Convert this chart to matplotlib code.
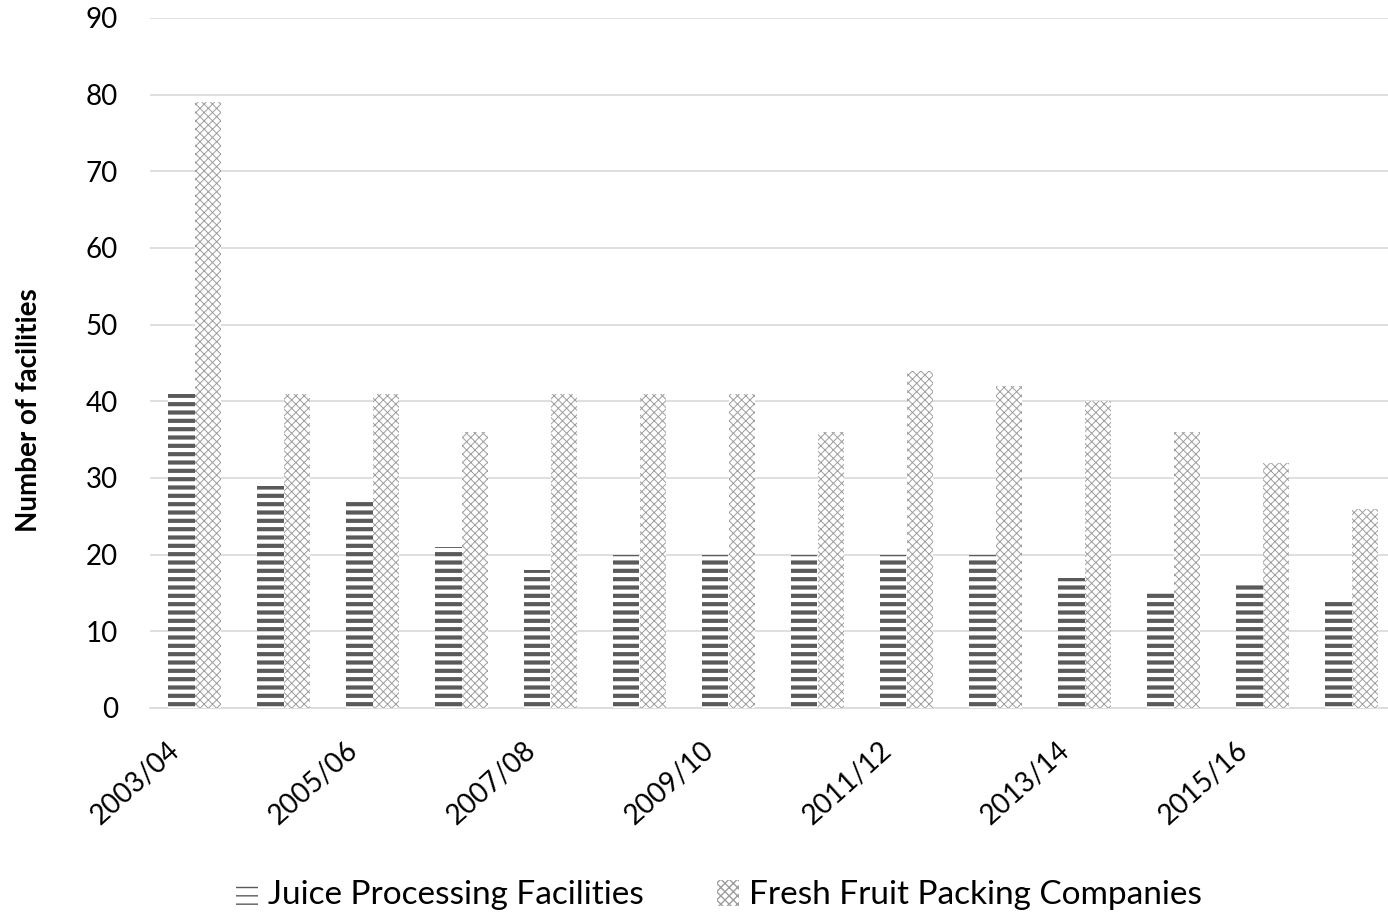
import matplotlib.pyplot as plt
import matplotlib.transforms as mtransforms
import numpy as np

seasons = ["2003/04", "2004/05", "2005/06", "2006/07", "2007/08", "2008/09", "2009/10",
           "2010/11", "2011/12", "2012/13", "2013/14", "2014/15", "2015/16", "2016/17"]
juice = [41, 29, 27, 21, 18, 20, 20, 20, 20, 20, 17, 15, 16, 14]
fruit = [79, 41, 41, 36, 41, 41, 41, 36, 44, 42, 40, 36, 32, 26]

plt.rcParams['font.family'] = ['Lato', 'DejaVu Sans']

fig = plt.figure(figsize=(13.88, 9.16), dpi=100)
ax = fig.add_axes([150 / 1388, 208 / 916, 1 - 150 / 1388, 690 / 916])

x = np.arange(len(seasons))
w = 0.30

# striped bars for juice, fine crosshatch for fresh fruit
with plt.rc_context({'hatch.linewidth': 3.0}):
    b1 = ax.bar(x - w / 2, juice, w, facecolor='white', edgecolor='#5a5a5a',
                linewidth=0, hatch='--', label='Juice Processing Facilities', zorder=3)
with plt.rc_context({'hatch.linewidth': 0.7}):
    b2 = ax.bar(x + w / 2, fruit, w, facecolor='white', edgecolor='#9e9e9e',
                linewidth=0, hatch='xxxx', label='Fresh Fruit Packing Companies', zorder=3)

ax.set_ylim(0, 90)
ax.set_xlim(-0.5, 13.5 - 8 / 89)
ax.set_yticks(range(0, 91, 10))
ax.tick_params(axis='y', length=0, labelsize=20, pad=23)
ax.yaxis.grid(True, color='#d9d9d9', linewidth=1.2, zorder=0)
ax.set_axisbelow(True)
for s in ['top', 'right', 'left']:
    ax.spines[s].set_visible(False)
ax.spines['bottom'].set_color('#d9d9d9')
ax.spines['bottom'].set_linewidth(1.2)

ax.set_xticks(x[::2])
ax.set_xticklabels(seasons[::2], rotation=42, ha='right', va='center',
                   rotation_mode='anchor', fontsize=20)
ax.tick_params(axis='x', length=0, pad=28)
off = mtransforms.ScaledTranslation(-18 / 100, 0, fig.dpi_scale_trans)
for lab in ax.get_xticklabels():
    lab.set_transform(lab.get_transform() + off)

fig.text(29 / 1388, 1 - 410 / 916, 'Number of facilities', rotation=90,
         ha='center', va='center', fontsize=20, fontweight='bold')

fig.legend(handles=[b1, b2], loc='center', bbox_to_anchor=(719 / 1388, 21 / 916), ncol=2,
           frameon=False, fontsize=24, handlelength=0.65, handleheight=0.85,
           handletextpad=0.3, columnspacing=2.2)

fig.savefig('out.png', dpi=100)
